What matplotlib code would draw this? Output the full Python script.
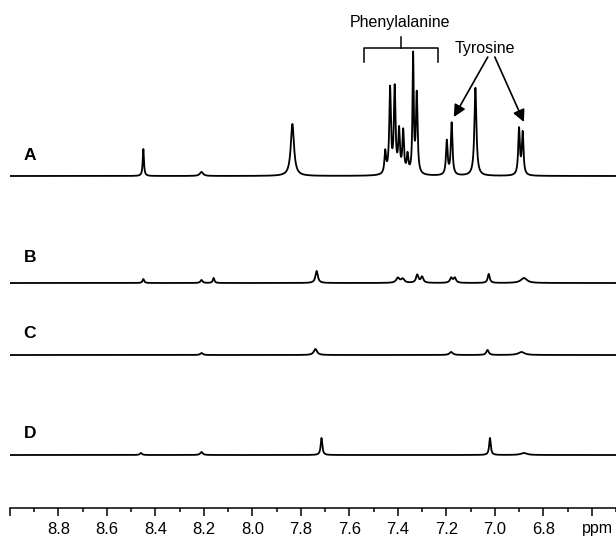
import numpy as np
import matplotlib
matplotlib.use('Agg')
import matplotlib.pyplot as plt
from matplotlib.ticker import FixedLocator, MultipleLocator

plt.rcParams['font.family'] = ['Liberation Sans', 'DejaVu Sans']

# peak lists: position (ppm), height (px), half width (ppm)
peaks_A_ppm = [8.450, 8.210, 7.835, 7.452, 7.432, 7.413, 7.395, 7.378, 7.360,
               7.337, 7.322, 7.198, 7.178, 7.080, 6.900, 6.885]
peaks_A_h = [27, 4, 52, 22, 85, 85, 42, 42, 18, 118, 80, 34, 52, 88, 46, 42]
peaks_A_w = [0.003, 0.008, 0.008, 0.004, 0.004, 0.004, 0.004, 0.004, 0.004,
             0.003, 0.004, 0.004, 0.004, 0.005, 0.004, 0.004]

peaks_B_ppm = [8.450, 8.210, 8.160, 7.735, 7.400, 7.380, 7.320, 7.300, 7.180,
               7.165, 7.025, 6.880]
peaks_B_h = [4, 3, 5, 12, 5, 4, 8, 6, 5, 5, 9, 5]
peaks_B_w = [0.004, 0.005, 0.004, 0.006, 0.008, 0.008, 0.006, 0.006, 0.006,
             0.006, 0.005, 0.015]

peaks_C_ppm = [8.210, 7.740, 7.180, 7.030, 6.890]
peaks_C_h = [2, 6, 3, 5, 3]
peaks_C_w = [0.006, 0.008, 0.008, 0.006, 0.015]

peaks_D_ppm = [8.460, 8.210, 7.715, 7.020, 6.880]
peaks_D_h = [2, 3, 17, 17, 2]
peaks_D_w = [0.005, 0.006, 0.004, 0.004, 0.015]

labels = ['A', 'B', 'C', 'D']
offsets = [332, 225, 153, 53]
label_y = [353, 250, 175, 75]

tick_pos = [9.0, 8.8, 8.6, 8.4, 8.2, 8.0, 7.8, 7.6, 7.4, 7.2, 7.0, 6.8, 6.6]
tick_lab = ['', '8.8', '8.6', '8.4', '8.2', '8.0', '7.8', '7.6', '7.4', '7.2',
            '7.0', '6.8', '']

ppm = np.linspace(9.0, 6.5, 6000)


def spectrum(pos, h, w):
    y = np.zeros_like(ppm)
    for p, a, g in zip(pos, h, w):
        y += a * g**2 / ((ppm - p)**2 + g**2)
    return y


fig = plt.figure(figsize=(6.16, 5.38), dpi=100)
ax = fig.add_axes([10 / 616, 30 / 538, 606 / 616, 508 / 538])

traces = [(peaks_A_ppm, peaks_A_h, peaks_A_w),
          (peaks_B_ppm, peaks_B_h, peaks_B_w),
          (peaks_C_ppm, peaks_C_h, peaks_C_w),
          (peaks_D_ppm, peaks_D_h, peaks_D_w)]

for (pos, h, w), off, lab, ly in zip(traces, offsets, labels, label_y):
    ax.plot(ppm, spectrum(pos, h, w) + off, color='black', lw=1.3)
    ax.text(8.918, ly, lab, fontsize=12.5, fontweight='bold',
            ha='center', va='center')

ax.set_xlim(9.0, 6.5)
ax.set_ylim(0, 508)

for s in ['top', 'left', 'right']:
    ax.spines[s].set_visible(False)
ax.spines['bottom'].set_linewidth(1.1)
ax.set_yticks([])
ax.xaxis.set_major_locator(FixedLocator(tick_pos))
ax.set_xticklabels(tick_lab)
ax.xaxis.set_minor_locator(MultipleLocator(0.1))
ax.tick_params(axis='x', which='major', length=6, width=1.1, pad=4,
               labelsize=12)
ax.tick_params(axis='x', which='minor', length=3, width=1.1)
ax.text(6.578, -20 / 508, 'ppm', transform=ax.get_xaxis_transform(),
        ha='center', va='center', fontsize=11.5, clip_on=False)

# phenylalanine bracket
ax.plot([7.54, 7.54, 7.235, 7.235], [446, 460, 460, 446], color='black', lw=1.1)
ax.plot([7.385, 7.385], [460, 471], color='black', lw=1.1)
ax.text(7.39, 486, 'Phenylalanine', fontsize=11.5, ha='center', va='center')

# tyrosine arrows
ax.text(7.04, 460, 'Tyrosine', fontsize=11.5, ha='center', va='center')
for tx, ty, hx, hy in [(7.029, 451, 7.169, 391), (7.0, 451, 6.88, 386)]:
    ax.annotate('', xy=(hx, hy), xytext=(tx, ty),
                arrowprops=dict(arrowstyle='-|>', color='black', lw=1.2,
                                mutation_scale=18, shrinkA=0, shrinkB=0))

fig.savefig('out.png', dpi=100)
